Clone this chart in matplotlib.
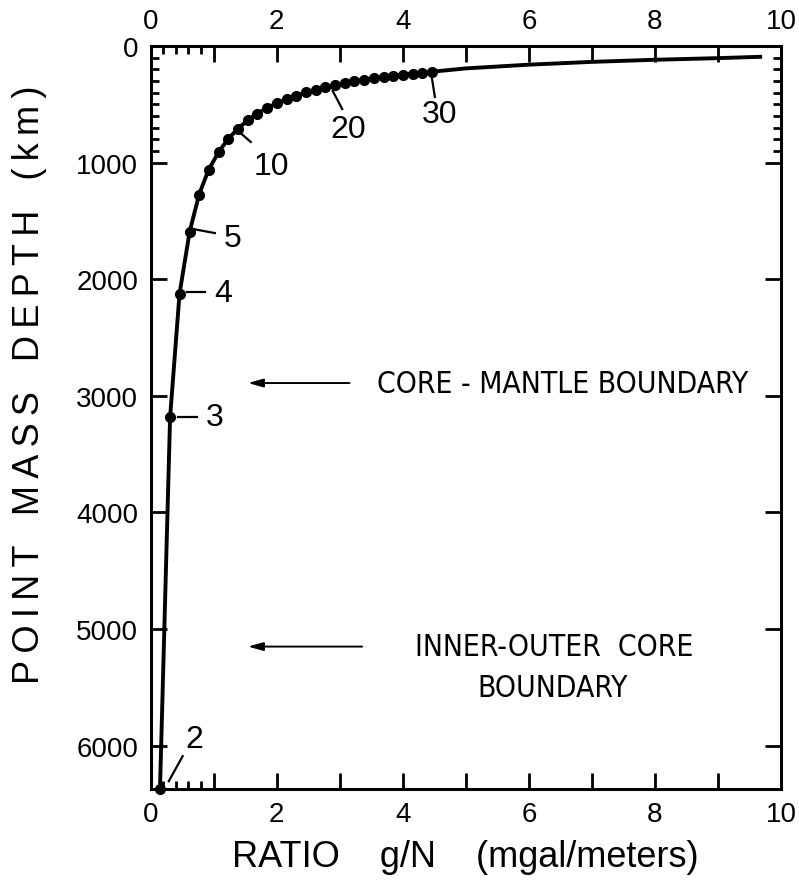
import matplotlib
matplotlib.use("Agg")
import matplotlib.pyplot as plt
from matplotlib import font_manager
from matplotlib.font_manager import FontProperties
from matplotlib.ticker import FixedLocator, MultipleLocator, FuncFormatter

# dotted points along the curve, one per harmonic degree n = 2 .. 30
degree = list(range(2, 31))
ratio = [0.15, 0.31, 0.46, 0.62, 0.77, 0.92, 1.08, 1.23, 1.39, 1.54,
         1.69, 1.85, 2.00, 2.16, 2.31, 2.46, 2.62, 2.77, 2.93, 3.08,
         3.23, 3.39, 3.54, 3.70, 3.85, 4.00, 4.16, 4.31, 4.47]
depth = [6371, 3185, 2124, 1593, 1274, 1062, 910, 796, 708, 637,
         579, 531, 490, 455, 425, 398, 375, 354, 335, 319,
         303, 290, 277, 265, 255, 245, 236, 228, 220]

# undotted continuation of the curve toward shallow depth
tail_ratio = [5.0, 6.0, 7.0, 8.0, 9.0, 9.7]
tail_depth = [192, 160, 136, 118, 104, 92]

labelled_degrees = [2, 3, 4, 5, 10, 20, 30]

CMB_DEPTH = 2890
ICB_DEPTH = 5150
EARTH_RADIUS = 6371

plt.rcParams['font.family'] = ['Liberation Sans', 'DejaVu Sans']


def condensed_font():
    # any narrow / condensed upright face will do for the boundary notes
    for f in font_manager.fontManager.ttflist:
        tag = (f.name + ' ' + str(f.stretch)).lower()
        if (('narrow' in tag or 'condensed' in tag) and f.style == 'normal'
                and f.weight in (400, 'normal', 'regular')):
            return f.fname
    return None


def spaced(s):
    # open up the lettering a little with thin spaces
    return '\u2009'.join(s)


fname = condensed_font()
if fname:
    note_font = FontProperties(fname=fname, size=21.5)
else:
    note_font = FontProperties(family='Liberation Sans', size=18.5)

fig = plt.figure(figsize=(7.99, 8.87), dpi=100)
ax = fig.add_axes([0.1884, 0.1094, 0.7891, 0.8376])

ax.plot(ratio + tail_ratio, depth + tail_depth, color='black', lw=2.8,
        solid_capstyle='butt', zorder=3)
ax.plot(ratio, depth, 'o', color='black', ms=7, zorder=4, clip_on=False)

ax.set_xlim(0, 10)
ax.set_ylim(EARTH_RADIUS, 0)

for s in ax.spines.values():
    s.set_linewidth(2.2)

ax.xaxis.set_major_locator(MultipleLocator(1))
ax.xaxis.set_major_formatter(FuncFormatter(
    lambda v, p: f"{v:.0f}" if round(v) % 2 == 0 else ""))
ax.xaxis.set_minor_locator(FixedLocator([0.2, 0.4, 0.6, 0.8]))
ax.yaxis.set_major_locator(MultipleLocator(1000))
ax.yaxis.set_minor_locator(FixedLocator(list(range(100, 1000, 100))))

ax.tick_params(which='both', direction='in', top=True, right=True,
               labeltop=True, width=2.0, labelsize=20)
ax.tick_params(which='major', length=11.5)
ax.tick_params(which='minor', length=6)
ax.tick_params(axis='x', which='major', pad=9)
ax.tick_params(axis='y', which='major', pad=9)

ax.set_xlabel("RATIO    g/N    (mgal/meters)", fontsize=26)
ax.xaxis.set_label_coords(0.5, -0.068)
ax.set_ylabel("   ".join(spaced(w) for w in ["POINT", "MASS", "DEPTH", "(km)"]),
              fontsize=26)
ax.yaxis.set_label_coords(-0.165, 0.545)

# degree labels with short leader lines
leaders = {
    2: ((0.29, 6304), (0.51, 6089), (0.70, 5943)),
    3: ((0.44, 3182), (0.74, 3182), (1.02, 3182)),
    4: ((0.58, 2110), (0.86, 2110), (1.16, 2120)),
    5: ((0.67, 1569), (1.02, 1604), (1.30, 1650)),
    10: ((1.39, 729), (1.59, 823), (1.92, 1030)),
    20: ((2.89, 386), (3.04, 540), (3.14, 715)),
    30: ((4.46, 266), (4.51, 437), (4.58, 585)),
}
for n in labelled_degrees:
    p0, p1, t = leaders[n]
    ax.plot([p0[0], p1[0]], [p0[1], p1[1]], color='black', lw=1.6,
            clip_on=False)
    ax.text(t[0], t[1], str(n), fontsize=23, ha='center', va='center')

# boundary arrows
arrow = dict(arrowstyle='-|>,head_length=0.9,head_width=0.25',
             color='black', lw=1.4)
ax.annotate("", xy=(1.50, CMB_DEPTH), xytext=(3.20, CMB_DEPTH),
            arrowprops=arrow)
ax.text(3.59, CMB_DEPTH, "CORE - MANTLE BOUNDARY", fontproperties=note_font,
        ha='left', va='center')

ax.annotate("", xy=(1.50, ICB_DEPTH), xytext=(3.40, ICB_DEPTH),
            arrowprops=arrow)
ax.text(6.40, ICB_DEPTH, "INNER-OUTER  CORE", fontproperties=note_font,
        ha='center', va='center')
ax.text(6.37, 5500, "BOUNDARY", fontproperties=note_font,
        ha='center', va='center')

fig.savefig("out.png", dpi=100)
